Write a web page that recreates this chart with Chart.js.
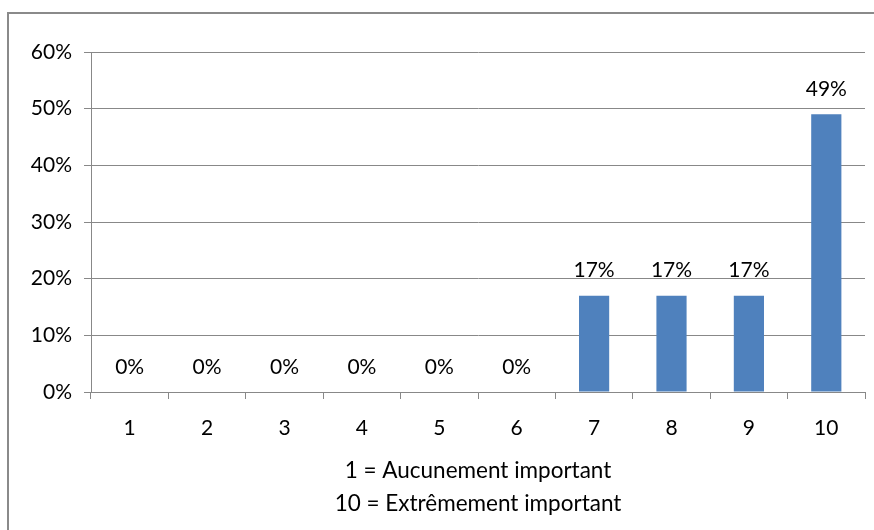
<!DOCTYPE html>
<html>
<head>
<meta charset="utf-8">
<script src="https://cdn.jsdelivr.net/npm/chart.js@4"></script>
<style>
    html, body { margin: 0; padding: 0; background: #fff; }
    #wrap { position: relative; width: 874px; height: 530px; overflow: hidden; }
    #frame {
        position: absolute; left: 7px; top: 12px; width: 900px; height: 600px;
        border-top: 2px solid #8a8a8a; border-left: 2px solid #8a8a8a;
    }
    canvas { position: absolute; left: 0; top: 0; }
</style>
</head>
<body>
<div id="wrap">
    <div id="frame"></div>
    <canvas id="chart" width="874" height="530"></canvas>
</div>
<script>
// ── DATA ─────────────────────────────────────────────
const categories = ['1', '2', '3', '4', '5', '6', '7', '8', '9', '10'];
const values     = [0, 0, 0, 0, 0, 0, 17, 17, 17, 49];
const yTicks     = [0, 10, 20, 30, 40, 50, 60];
const axisTitle  = ['1 = Aucunement important', '10 = Extrêmement important'];

const FONT = 'Lato, "Open Sans", sans-serif';
const GRID = '#888888';

// value labels above each bar
const barLabels = {
    id: 'barLabels',
    afterDatasetsDraw(chart) {
        const c = chart.ctx;
        const meta = chart.getDatasetMeta(0);
        c.save();
        c.font = '21px ' + FONT;
        c.fillStyle = '#000';
        c.textAlign = 'center';
        c.textBaseline = 'middle';
        meta.data.forEach((bar, i) => {
            c.fillText(values[i] + '%', bar.x, bar.y - 25);
        });
        c.restore();
    }
};

new Chart(document.getElementById('chart'), {
    type: 'bar',
    data: {
        labels: categories,
        datasets: [{
            data: values,
            backgroundColor: '#4F81BD',
            borderWidth: 0,
            barPercentage: 0.39,
            categoryPercentage: 1
        }]
    },
    options: {
        responsive: false,
        animation: false,
        layout: { padding: { top: 52, right: 9, bottom: 0, left: 0 } },
        plugins: {
            legend: { display: false },
            tooltip: { enabled: false }
        },
        scales: {
            x: {
                grid: {
                    display: true,
                    offset: true,
                    drawOnChartArea: false,
                    drawTicks: true,
                    tickLength: 7,
                    color: GRID
                },
                border: { color: GRID, width: 1 },
                ticks: {
                    color: '#000',
                    padding: 17,
                    maxRotation: 0,
                    font: { family: FONT, size: 21 }
                },
                title: {
                    display: true,
                    text: axisTitle,
                    color: '#000',
                    padding: { top: 0, bottom: 10 },
                    font: { family: FONT, size: 22.5, lineHeight: 1.47 }
                },
                afterFit(scale) { scale.height = 138; }
            },
            y: {
                min: 0,
                max: 60,
                afterBuildTicks(scale) { scale.ticks = yTicks.map(v => ({ value: v })); },
                grid: { color: GRID, tickLength: 7 },
                border: { color: GRID, width: 1 },
                ticks: {
                    color: '#000',
                    padding: 12,
                    font: { family: FONT, size: 21 },
                    callback: v => v + '%'
                },
                afterFit(scale) { scale.width = 91; }
            }
        }
    },
    plugins: [barLabels]
});
</script>
</body>
</html>
